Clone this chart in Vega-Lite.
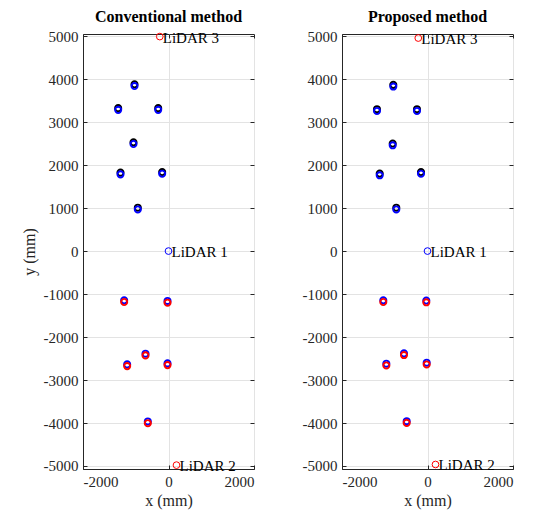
{
  "$schema": "https://vega.github.io/schema/vega-lite/v6.json",
  "padding": {"left": 20, "top": 8, "right": 5, "bottom": 5},
  "spacing": 46,
  "config": {
    "font": "Liberation Serif",
    "style": {
      "guide-label": {"font": "Liberation Serif", "fontSize": 15, "fill": "#262626"},
      "guide-title": {"font": "Liberation Serif", "fontSize": 16, "fill": "#262626"}
    },
    "view": {"stroke": "#262626", "strokeWidth": 1},
    "axis": {
      "labelFont": "Liberation Serif",
      "titleFont": "Liberation Serif",
      "labelFontSize": 15,
      "titleFontSize": 16,
      "titleFontWeight": "normal",
      "labelColor": "#262626",
      "titleColor": "#262626",
      "domainColor": "#262626",
      "tickColor": "#262626",
      "gridColor": "#e3e3e3",
      "tickSize": -4,
      "labelPadding": 9,
      "labelExpr": "'' + datum.value"
    },
    "title": {"font": "Liberation Serif", "fontSize": 16, "fontWeight": "bold", "color": "#000000", "offset": 4}
  },
  "datasets": {
    "targets": [
      {"panel": "conv", "c": "black", "x": -795, "y": 3880},
      {"panel": "conv", "c": "blue", "x": -795, "y": 3840},
      {"panel": "conv", "c": "black", "x": -1177, "y": 3325},
      {"panel": "conv", "c": "blue", "x": -1177, "y": 3285},
      {"panel": "conv", "c": "black", "x": -241, "y": 3325},
      {"panel": "conv", "c": "blue", "x": -241, "y": 3285},
      {"panel": "conv", "c": "black", "x": -819, "y": 2531},
      {"panel": "conv", "c": "blue", "x": -819, "y": 2491},
      {"panel": "conv", "c": "black", "x": -1123, "y": 1825},
      {"panel": "conv", "c": "blue", "x": -1123, "y": 1785},
      {"panel": "conv", "c": "black", "x": -148, "y": 1839},
      {"panel": "conv", "c": "blue", "x": -148, "y": 1799},
      {"panel": "conv", "c": "black", "x": -718, "y": 1009},
      {"panel": "conv", "c": "blue", "x": -718, "y": 969},
      {"panel": "conv", "c": "blue", "x": -1037, "y": -1145},
      {"panel": "conv", "c": "red", "x": -1037, "y": -1185},
      {"panel": "conv", "c": "blue", "x": -23, "y": -1161},
      {"panel": "conv", "c": "red", "x": -23, "y": -1201},
      {"panel": "conv", "c": "blue", "x": -538, "y": -2387},
      {"panel": "conv", "c": "red", "x": -538, "y": -2427},
      {"panel": "conv", "c": "blue", "x": -967, "y": -2636},
      {"panel": "conv", "c": "red", "x": -967, "y": -2676},
      {"panel": "conv", "c": "blue", "x": -23, "y": -2613},
      {"panel": "conv", "c": "red", "x": -23, "y": -2653},
      {"panel": "conv", "c": "blue", "x": -484, "y": -3964},
      {"panel": "conv", "c": "red", "x": -484, "y": -4004},
      {"panel": "prop", "c": "black", "x": -800, "y": 3867},
      {"panel": "prop", "c": "blue", "x": -800, "y": 3827},
      {"panel": "prop", "c": "black", "x": -1182, "y": 3300},
      {"panel": "prop", "c": "blue", "x": -1182, "y": 3260},
      {"panel": "prop", "c": "black", "x": -246, "y": 3300},
      {"panel": "prop", "c": "blue", "x": -246, "y": 3260},
      {"panel": "prop", "c": "black", "x": -814, "y": 2501},
      {"panel": "prop", "c": "blue", "x": -814, "y": 2461},
      {"panel": "prop", "c": "black", "x": -1118, "y": 1802},
      {"panel": "prop", "c": "blue", "x": -1118, "y": 1762},
      {"panel": "prop", "c": "black", "x": -152, "y": 1839},
      {"panel": "prop", "c": "blue", "x": -152, "y": 1799},
      {"panel": "prop", "c": "black", "x": -730, "y": 1009},
      {"panel": "prop", "c": "blue", "x": -730, "y": 969},
      {"panel": "prop", "c": "blue", "x": -1034, "y": -1145},
      {"panel": "prop", "c": "red", "x": -1034, "y": -1185},
      {"panel": "prop", "c": "blue", "x": -28, "y": -1152},
      {"panel": "prop", "c": "red", "x": -28, "y": -1192},
      {"panel": "prop", "c": "blue", "x": -550, "y": -2380},
      {"panel": "prop", "c": "red", "x": -550, "y": -2420},
      {"panel": "prop", "c": "blue", "x": -963, "y": -2620},
      {"panel": "prop", "c": "red", "x": -963, "y": -2660},
      {"panel": "prop", "c": "blue", "x": -19, "y": -2597},
      {"panel": "prop", "c": "red", "x": -19, "y": -2637},
      {"panel": "prop", "c": "blue", "x": -487, "y": -3957},
      {"panel": "prop", "c": "red", "x": -487, "y": -3997}
    ],
    "lidar": [
      {"panel": "conv", "name": "LiDAR 3", "c": "red", "x": -204, "y": 4990},
      {"panel": "conv", "name": "LiDAR 1", "c": "blue", "x": 0, "y": 0},
      {"panel": "conv", "name": "LiDAR 2", "c": "red", "x": 187, "y": -4980},
      {"panel": "prop", "name": "LiDAR 3", "c": "red", "x": -216, "y": 4956},
      {"panel": "prop", "name": "LiDAR 1", "c": "blue", "x": 0, "y": 0},
      {"panel": "prop", "name": "LiDAR 2", "c": "red", "x": 187, "y": -4965}
    ]
  },
  "hconcat": [
    {
      "width": 171,
      "height": 435,
      "title": "Conventional method",
      "resolve": {"axis": {"x": "independent", "y": "independent"}},
      "layer": [
        {
          "data": {"name": "targets"},
          "transform": [{"filter": "datum.panel == 'conv'"}],
          "mark": {"type": "point", "filled": false, "strokeWidth": 1.9, "size": 38, "opacity": 1},
          "encoding": {
            "x": {"field": "x", "type": "quantitative", "scale": {"domain": [-2000, 2000], "nice": false}, "axis": {"values": [-2000, 0, 2000], "title": "x (mm)", "titlePadding": 3}},
            "y": {"field": "y", "type": "quantitative", "scale": {"domain": [-5070, 5050], "nice": false}, "axis": {"values": [-5000, -4000, -3000, -2000, -1000, 0, 1000, 2000, 3000, 4000, 5000], "title": "y (mm)", "titlePadding": 6}},
            "color": {"field": "c", "type": "nominal", "scale": {"domain": ["black", "blue", "red"], "range": ["#000000", "#0000ff", "#ff0000"]}, "legend": null}
          }
        },
        {
          "data": {"name": "lidar"},
          "transform": [{"filter": "datum.panel == 'conv'"}],
          "mark": {"type": "point", "filled": false, "strokeWidth": 1, "size": 45, "opacity": 1},
          "encoding": {
            "x": {"field": "x", "type": "quantitative", "axis": {"orient": "top", "values": [-2000, 0, 2000], "labels": false, "grid": false, "domain": false, "title": null}},
            "y": {"field": "y", "type": "quantitative", "axis": {"orient": "right", "values": [-5000, -4000, -3000, -2000, -1000, 0, 1000, 2000, 3000, 4000, 5000], "labels": false, "grid": false, "domain": false, "title": null}},
            "color": {"field": "c", "type": "nominal", "legend": null}
          }
        },
        {
          "data": {"name": "lidar"},
          "transform": [{"filter": "datum.panel == 'conv'"}],
          "mark": {"type": "text", "align": "left", "baseline": "middle", "dx": 3, "dy": 1, "fontSize": 15, "font": "Liberation Serif", "color": "#000000"},
          "encoding": {
            "x": {"field": "x", "type": "quantitative", "axis": null},
            "y": {"field": "y", "type": "quantitative", "axis": null},
            "text": {"field": "name"}
          }
        }
      ]
    },
    {
      "width": 171,
      "height": 435,
      "title": "Proposed method",
      "resolve": {"axis": {"x": "independent", "y": "independent"}},
      "layer": [
        {
          "data": {"name": "targets"},
          "transform": [{"filter": "datum.panel == 'prop'"}],
          "mark": {"type": "point", "filled": false, "strokeWidth": 1.9, "size": 38, "opacity": 1},
          "encoding": {
            "x": {"field": "x", "type": "quantitative", "scale": {"domain": [-2000, 2000], "nice": false}, "axis": {"values": [-2000, 0, 2000], "title": "x (mm)", "titlePadding": 3}},
            "y": {"field": "y", "type": "quantitative", "scale": {"domain": [-5070, 5050], "nice": false}, "axis": {"values": [-5000, -4000, -3000, -2000, -1000, 0, 1000, 2000, 3000, 4000, 5000], "title": null}},
            "color": {"field": "c", "type": "nominal", "scale": {"domain": ["black", "blue", "red"], "range": ["#000000", "#0000ff", "#ff0000"]}, "legend": null}
          }
        },
        {
          "data": {"name": "lidar"},
          "transform": [{"filter": "datum.panel == 'prop'"}],
          "mark": {"type": "point", "filled": false, "strokeWidth": 1, "size": 45, "opacity": 1},
          "encoding": {
            "x": {"field": "x", "type": "quantitative", "axis": {"orient": "top", "values": [-2000, 0, 2000], "labels": false, "grid": false, "domain": false, "title": null}},
            "y": {"field": "y", "type": "quantitative", "axis": {"orient": "right", "values": [-5000, -4000, -3000, -2000, -1000, 0, 1000, 2000, 3000, 4000, 5000], "labels": false, "grid": false, "domain": false, "title": null}},
            "color": {"field": "c", "type": "nominal", "legend": null}
          }
        },
        {
          "data": {"name": "lidar"},
          "transform": [{"filter": "datum.panel == 'prop'"}],
          "mark": {"type": "text", "align": "left", "baseline": "middle", "dx": 3, "dy": 1, "fontSize": 15, "font": "Liberation Serif", "color": "#000000"},
          "encoding": {
            "x": {"field": "x", "type": "quantitative", "axis": null},
            "y": {"field": "y", "type": "quantitative", "axis": null},
            "text": {"field": "name"}
          }
        }
      ]
    }
  ]
}
